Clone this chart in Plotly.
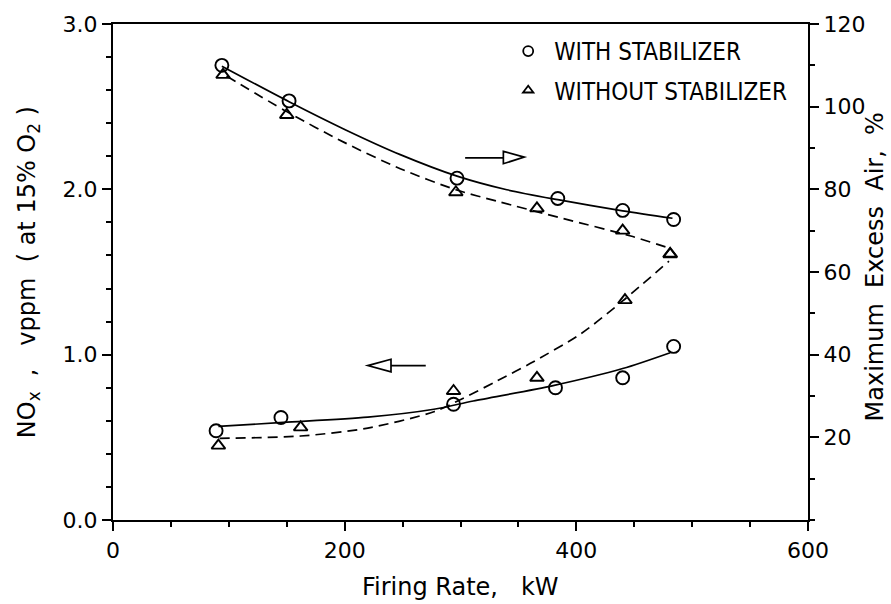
import plotly.graph_objects as go

# ---------------- data ----------------
# Excess air (right axis, %) vs firing rate (kW)
ea_with_x = [94, 152, 297, 384, 440, 484]
ea_with_y = [110, 101.4, 82.7, 77.8, 74.9, 72.7]
ea_without_x = [95, 150, 296, 366, 440, 481]
ea_without_y = [107.7, 98, 79.3, 75.4, 70, 64.3]

# NOx (left axis, vppm) vs firing rate (kW)
nox_with_x = [89, 145, 294, 382, 440, 484]
nox_with_y = [0.54, 0.62, 0.70, 0.80, 0.86, 1.05]
nox_without_x = [91, 162, 294, 366, 442, 481]
nox_without_y = [0.45, 0.56, 0.78, 0.86, 1.33, 1.61]

# fitted curves as drawn in the reference
fit_ea_with_x = [94, 152, 200, 248, 297, 340, 384, 440, 483]
fit_ea_with_y = [109.8, 101.2, 94.5, 88.4, 83.2, 79.9, 77.5, 74.8, 73.0]
fit_ea_without_x = [98, 150, 200, 248, 296, 332, 389, 447, 480]
fit_ea_without_y = [107.4, 98.8, 91.3, 85.0, 79.9, 77.1, 72.9, 68.7, 65.8]
fit_nox_with_x = [91, 147, 220, 277, 311, 380, 440, 481]
fit_nox_with_y = [0.566, 0.590, 0.622, 0.670, 0.720, 0.813, 0.916, 1.012]
fit_nox_without_x = [92, 162, 220, 277, 302, 332, 360, 404, 440, 480]
fit_nox_without_y = [0.494, 0.508, 0.556, 0.655, 0.735, 0.843, 0.946, 1.127, 1.325, 1.566]

x_ticks = [0, 200, 400, 600]
left_ticks = [0.0, 1.0, 2.0, 3.0]
left_tick_text = ["0.0", "1.0", "2.0", "3.0"]
right_ticks = [20, 40, 60, 80, 100, 120]

legend_labels = ["WITH STABILIZER", "WITHOUT STABILIZER"]

# ---------------- figure ----------------
FONT = "DejaVu Sans"
BLACK = "black"

fig = go.Figure()

marker_circle = dict(symbol="circle-open", size=13, color=BLACK, line=dict(width=1.9, color=BLACK))
marker_tri = dict(symbol="triangle-up-open", size=12, color=BLACK, line=dict(width=1.9, color=BLACK))
solid = dict(color=BLACK, width=1.7)
dashed = dict(color=BLACK, width=1.7, dash="10px,6px")

# curves
for cx, cy, ln, ax in [
    (fit_nox_with_x, fit_nox_with_y, solid, "y"),
    (fit_nox_without_x, fit_nox_without_y, dashed, "y"),
    (fit_ea_with_x, fit_ea_with_y, solid, "y2"),
    (fit_ea_without_x, fit_ea_without_y, dashed, "y2"),
]:
    fig.add_trace(go.Scatter(x=cx, y=cy, mode="lines", line=dict(**ln, shape="spline", smoothing=0.8),
                             yaxis=ax, showlegend=False, hoverinfo="skip"))

# points
fig.add_trace(go.Scatter(x=nox_with_x, y=nox_with_y, mode="markers", marker=marker_circle, showlegend=False))
fig.add_trace(go.Scatter(x=nox_without_x, y=nox_without_y, mode="markers", marker=marker_tri, showlegend=False))
fig.add_trace(go.Scatter(x=ea_with_x, y=ea_with_y, mode="markers", marker=marker_circle, yaxis="y2", showlegend=False))
fig.add_trace(go.Scatter(x=ea_without_x, y=ea_without_y, mode="markers", marker=marker_tri, yaxis="y2", showlegend=False))

# legend-only entries
fig.add_trace(go.Scatter(x=[None], y=[None], mode="markers", name=legend_labels[0],
                         marker=dict(symbol="circle-open", size=10, color=BLACK, line=dict(width=1.8, color=BLACK)),
                         legendgroup="a"))
fig.add_trace(go.Scatter(x=[None], y=[None], mode="markers", name=legend_labels[1],
                         marker=dict(symbol="triangle-up-open", size=9, color=BLACK, line=dict(width=1.8, color=BLACK)),
                         legendgroup="b"))

# direction arrows (open heads)
arrow_line = dict(color=BLACK, width=1.7)
fig.add_shape(type="line", x0=304, x1=337, y0=2.19, y1=2.19, xref="x", yref="y", line=arrow_line)
fig.add_shape(type="path", path="M 337,2.23 L 355,2.195 L 337,2.155 Z", xref="x", yref="y", line=arrow_line)
fig.add_shape(type="line", x0=270, x1=240, y0=0.934, y1=0.934, xref="x", yref="y", line=arrow_line)
fig.add_shape(type="path", path="M 240,0.972 L 220,0.934 L 240,0.896 Z", xref="x", yref="y", line=arrow_line)

tickfont = dict(family=FONT, size=22, color=BLACK)
titlefont = dict(family=FONT, size=24, color=BLACK)

fig.update_layout(
    width=891, height=604,
    margin=dict(l=113, r=83, t=22, b=84),
    paper_bgcolor="white", plot_bgcolor="white",
    font=dict(family=FONT, color=BLACK),
    xaxis=dict(range=[0, 600], tickvals=x_ticks, ticks="outside", ticklen=9, tickwidth=2,
               tickcolor=BLACK, showline=True, linecolor=BLACK, linewidth=2.2, mirror=True,
               showgrid=False, zeroline=False, tickfont=tickfont,
               minor=dict(dtick=50, ticks="outside", ticklen=5, tickwidth=1.6, tickcolor=BLACK, showgrid=False)),
    yaxis=dict(range=[0, 3.0], tickvals=left_ticks, ticktext=left_tick_text, ticks="outside", ticklen=9,
               tickwidth=2, tickcolor=BLACK, showline=True, linecolor=BLACK, linewidth=2.2,
               showgrid=False, zeroline=False, tickfont=tickfont,
               minor=dict(dtick=0.2, ticks="outside", ticklen=5, tickwidth=1.6, tickcolor=BLACK, showgrid=False)),
    yaxis2=dict(range=[0, 120], overlaying="y", side="right", tickvals=right_ticks, ticks="outside",
                ticklen=9, tickwidth=2, tickcolor=BLACK, showline=True, linecolor=BLACK, linewidth=2.2,
                showgrid=False, zeroline=False, tickfont=tickfont,
                minor=dict(dtick=10, ticks="outside", ticklen=5, tickwidth=1.6, tickcolor=BLACK, showgrid=False)),
    legend=dict(x=0.56, y=0.99, xanchor="left", yanchor="top", bgcolor="rgba(0,0,0,0)",
                font=dict(family="Liberation Sans Narrow, DejaVu Sans Condensed, Liberation Sans", size=24, color=BLACK),
                tracegroupgap=5, traceorder="grouped", itemwidth=42),
)

fig.add_annotation(text="Firing Rate,   kW", xref="paper", yref="paper", x=0.5, y=-0.135,
                   showarrow=False, font=titlefont, xanchor="center", yanchor="middle")
fig.add_annotation(text="NO<sub>x</sub>  ,   vppm  ( at 15% O<sub>2</sub> )", xref="paper", yref="paper",
                   x=-0.122, y=0.5, textangle=-90, showarrow=False, font=titlefont,
                   xanchor="center", yanchor="middle")
fig.add_annotation(text="Maximum  Excess  Air,  %", xref="paper", yref="paper",
                   x=1.097, y=0.51, textangle=-90, showarrow=False, font=titlefont,
                   xanchor="center", yanchor="middle")

fig.write_html("out.html")
